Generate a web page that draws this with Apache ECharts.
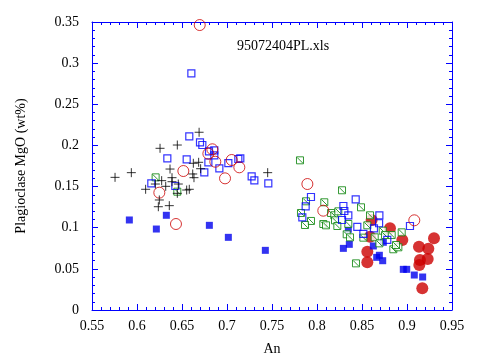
<!DOCTYPE html>
<html><head><meta charset="utf-8">
<script src="https://cdn.jsdelivr.net/npm/echarts@6/dist/echarts.min.js"></script>
<style>html,body{margin:0;padding:0;background:#fff}#c{width:490px;height:363px}</style>
</head><body><div id="c"></div>
<script>
const xTicks = [0.55,0.6,0.65,0.7,0.75,0.8,0.85,0.9,0.95];
const yTicks = [0,0.05,0.1,0.15,0.2,0.25,0.3,0.35];

const plusPts = [[0.5756,0.1612],[0.5937,0.1669],[0.6256,0.1965],[0.6448,0.2005],[0.669,0.216],
 [0.6626,0.1783],[0.6685,0.1795],[0.6367,0.1713],[0.6707,0.1717],[0.6619,0.1653],[0.6633,0.1608],
 [0.6274,0.1572],[0.6389,0.1608],[0.6389,0.1559],[0.6319,0.1503],[0.6096,0.1467],[0.6204,0.1531],
 [0.6459,0.1531],[0.6448,0.1418],[0.6552,0.1458],[0.6581,0.1467],[0.6248,0.1337],[0.6237,0.1255],
 [0.6359,0.1268],[0.7452,0.1669]];
const openSqPts = [[0.6604,0.2876],[0.6581,0.2111],[0.67,0.2038],[0.6726,0.2005],[0.68,0.1928],[0.6859,0.194],
 [0.6859,0.188],[0.6793,0.1795],[0.6337,0.1843],[0.6552,0.1831],[0.7015,0.1786],[0.6915,0.1722],
 [0.6748,0.1673],[0.7126,0.1835],[0.7148,0.1843],[0.7274,0.1625],[0.7304,0.1576],[0.7459,0.1539],
 [0.6159,0.1539],[0.6426,0.1507],
 [0.7933,0.1373],[0.7874,0.126],[0.7837,0.1126],[0.843,0.1345],[0.8293,0.1264],[0.8304,0.1203],
 [0.8348,0.1151],[0.8278,0.1094],[0.8693,0.1151],[0.869,0.1054],[0.8448,0.1009],[0.8633,0.0993],
 [0.8515,0.0924],[0.8781,0.0851],[0.9033,0.1021]];
const openCirPts = [[0.6697,0.3463],[0.6837,0.1953],[0.6793,0.19],[0.687,0.1802],[0.7052,0.1823],
 [0.7137,0.1734],[0.6515,0.1689],[0.6978,0.16],[0.6248,0.1426],[0.6433,0.1045],
 [0.7893,0.1531],[0.807,0.1207],[0.9081,0.109]];
const filledSqPts = [[0.5915,0.1094],[0.6215,0.0984],[0.6326,0.1151],[0.6804,0.1029],[0.7015,0.0883],
 [0.7426,0.0725],[0.8293,0.0749],[0.8359,0.0798],[0.8348,0.0981],[0.8626,0.0778],[0.8737,0.0823],
 [0.8663,0.064],[0.8693,0.0665],[0.873,0.0599],[0.8959,0.0494],[0.8997,0.0494],[0.9081,0.0425],
 [0.9174,0.0401]];
const hatchSqPts = [[0.6207,0.1612],[0.6448,0.1438],
 [0.7811,0.1819],[0.8278,0.1455],[0.8081,0.1309],[0.7878,0.1321],[0.7822,0.1179],[0.7933,0.1082],
 [0.7867,0.1033],[0.807,0.1045],[0.81,0.1029],[0.8156,0.1179],[0.8192,0.1151],[0.8237,0.1199],
 [0.82,0.109],[0.8226,0.1021],[0.8489,0.1248],[0.8348,0.1045],[0.8589,0.1151],[0.8515,0.0879],
 [0.833,0.092],[0.8367,0.0883],[0.8559,0.1029],[0.8641,0.0883],[0.873,0.0964],[0.8756,0.0911],
 [0.883,0.0911],[0.8693,0.081],[0.8941,0.0944],[0.8848,0.0738],[0.8904,0.0762],[0.8878,0.079],
 [0.8433,0.0567]];
const filledCirPts = [[0.8607,0.1094],[0.8589,0.0891],[0.8559,0.0709],[0.8559,0.058],[0.8811,0.0993],
 [0.8948,0.0851],[0.93,0.0871],[0.9133,0.0769],[0.9237,0.0745],[0.9144,0.0608],[0.923,0.062],
 [0.9137,0.0547],[0.917,0.0263]];

const FONT = '"Liberation Serif","Times New Roman",serif';
const BLUE = '#0000ff';
function fmt(v){ return String(+(+v).toFixed(2)); }
const xLo = xTicks[0], xHi = xTicks[xTicks.length-1];
const yLo = yTicks[0], yHi = yTicks[yTicks.length-1];

function makeAxis(pos, lo, hi, showLabel, extra){
  return Object.assign({
    type:'value', min:lo, max:hi, interval:0.05, position:pos,
    splitLine:{show:false},
    axisLine:{show:true, onZero:false, lineStyle:{color:BLUE, width:1}},
    axisTick:{show:true, inside:true, length:6, lineStyle:{color:BLUE, width:1}},
    minorTick:{show:true, splitNumber:5, length:3, lineStyle:{color:BLUE, width:1}},
    axisLabel:{show:showLabel, color:'#000', fontFamily:FONT, fontSize:14, formatter:fmt}
  }, extra || {});
}

const chart = echarts.init(document.getElementById('c'));
chart.setOption({
  animation:false,
  title:{text:'95072404PL.xls', left:232, top:34, textStyle:{fontFamily:FONT, fontSize:14, fontWeight:'normal', color:'#000'}},
  grid:{left:92, right:38, top:22, bottom:53},
  xAxis:[
    makeAxis('bottom', xLo, xHi, true, {
      name:'An', nameLocation:'middle', nameGap:32,
      nameTextStyle:{fontFamily:FONT, fontSize:14, color:'#000'},
      axisLabel:{color:'#000', fontFamily:FONT, fontSize:14, margin:9, formatter:fmt}}),
    makeAxis('top', xLo, xHi, false)
  ],
  yAxis:[
    makeAxis('left', yLo, yHi, true, {
      name:'Plagioclase MgO (wt%)', nameLocation:'middle', nameGap:64,
      nameTextStyle:{fontFamily:FONT, fontSize:14, color:'#000'},
      axisLabel:{color:'#000', fontFamily:FONT, fontSize:14, margin:13, formatter:fmt}}),
    makeAxis('right', yLo, yHi, false)
  ],
  series:[
    {type:'scatter', data:filledCirPts, symbol:'circle', symbolSize:12, itemStyle:{color:'#cc0000'}},
    {type:'scatter', data:filledSqPts, symbol:'rect', symbolSize:7, itemStyle:{color:'#0000ee'}},
    {type:'scatter', data:hatchSqPts, symbol:'path://M0,0L10,0L10,10L0,10ZM1,1L9,9', symbolSize:7,
      itemStyle:{color:'#fff', borderColor:'#008000', borderWidth:1}},
    {type:'scatter', data:openSqPts, symbol:'rect', symbolSize:7,
      itemStyle:{color:'rgba(255,255,255,0)', borderColor:BLUE, borderWidth:1.2}},
    {type:'scatter', data:openCirPts, symbol:'circle', symbolSize:11,
      itemStyle:{color:'rgba(255,255,255,0)', borderColor:'#cc0000', borderWidth:1}},
    {type:'scatter', data:plusPts, symbol:'path://M5,0L5,10M0,5L10,5', symbolSize:9,
      itemStyle:{color:'none', borderColor:'#000', borderWidth:1}}
  ]
});
</script></body></html>
